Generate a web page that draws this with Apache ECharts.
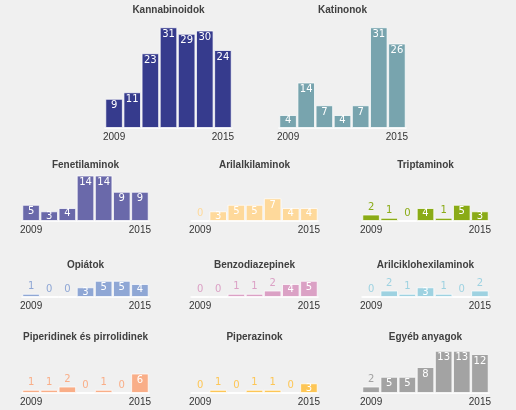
<!DOCTYPE html>
<html><head><meta charset="utf-8">
<script src="https://cdn.jsdelivr.net/npm/echarts@6/dist/echarts.min.js"></script>
<style>html,body{margin:0;padding:0;background:#f0f0f0}#c{width:516px;height:410px}</style>
</head><body><div id="c"></div>
<script>
const years = ['2009','2010','2011','2012','2013','2014','2015'];
const titles = ['Kannabinoidok','Katinonok','Fenetilaminok','Arilalkilaminok','Triptaminok','Opiátok','Benzodiazepinek','Arilciklohexilaminok','Piperidinek és pirrolidinek','Piperazinok','Egyéb anyagok'];
const kannabinoidok = [9, 11, 23, 31, 29, 30, 24];
const katinonok = [4, 14, 7, 4, 7, 31, 26];
const fenetilaminok = [5, 3, 4, 14, 14, 9, 9];
const arilalkilaminok = [0, 3, 5, 5, 7, 4, 4];
const triptaminok = [2, 1, 0, 4, 1, 5, 3];
const opiatok = [1, 0, 0, 3, 5, 5, 4];
const benzodiazepinek = [0, 0, 1, 1, 2, 4, 5];
const arilciklohexilaminok = [0, 2, 1, 3, 1, 0, 2];
const piperidinek = [1, 1, 2, 0, 1, 0, 6];
const piperazinok = [0, 1, 0, 1, 1, 0, 3];
const egyeb = [2, 5, 5, 8, 13, 13, 12];
const seriesData = [kannabinoidok, katinonok, fenetilaminok, arilalkilaminok, triptaminok, opiatok, benzodiazepinek, arilciklohexilaminok, piperidinek, piperazinok, egyeb];
const colors = ['#363b8d','#78a4ae','#6a69aa','#fed99b','#8aab16','#8fa7d5','#dba1c5','#9ed2e1','#f9ae88','#fdc656','#a3a3a3'];

// layout: [left, baseline, width, plotHeight]
const K = 3.25;
const layout = [
  [105,128,127,104],[279,128,127,104],
  [22,221,127,52],[191,221,127,52],[362,221,127,52],
  [22,297,127,52],[191,297,127,52],[362,297,127,52],
  [22,393,127,52],[191,393,127,52],[362,393,127,52]
];
const titleY = [10,10,165,165,165,265,265,265,337,337,337];
const FONT = '"Liberation Sans", Arial, sans-serif';

const grids=[], xAxes=[], yAxes=[], series=[], graphics=[];
layout.forEach((l,i)=>{
  const [left, base, w, h] = l;
  grids.push({left:left, top:base-h, width:w, height:h});
  xAxes.push({type:'category', gridIndex:i, data:years,
    axisLine:{show:true, lineStyle:{color:'#ffffff', width:1.5}},
    axisTick:{show:false},
    axisLabel:{interval:(idx)=>idx===0||idx===6, color:'#333', fontSize:10, margin:4, fontFamily:FONT}});
  yAxes.push({type:'value', gridIndex:i, min:0, max:h/K, show:false, splitLine:{show:false}});
  const col = colors[i];
  series.push({type:'bar', xAxisIndex:i, yAxisIndex:i, barCategoryGap:'3%',
    itemStyle:{color:col, borderColor:'rgba(255,255,255,0.75)', borderWidth:1},
    data: seriesData[i].map(v=>({value:v, label:{show:true,
      position: v>=3?'insideTop':'top', distance: v>=5?2:(v>=3?0:2),
      color: v>=3?'#ffffff':col, fontSize:10, fontFamily:'"DejaVu Sans", sans-serif'}})),
    animation:false});
  graphics.push({type:'text', x:left+w/2, y:titleY[i], style:{text:titles[i], x:0, y:0,
    textAlign:'center', textVerticalAlign:'middle', fill:'#404040', font:'bold 10px '+FONT}});
});

const chart = echarts.init(document.getElementById('c'), null, {renderer:'canvas'});
chart.setOption({backgroundColor:'#f0f0f0', animation:false, grid:grids, xAxis:xAxes, yAxis:yAxes, series:series, graphic:graphics});
</script></body></html>
